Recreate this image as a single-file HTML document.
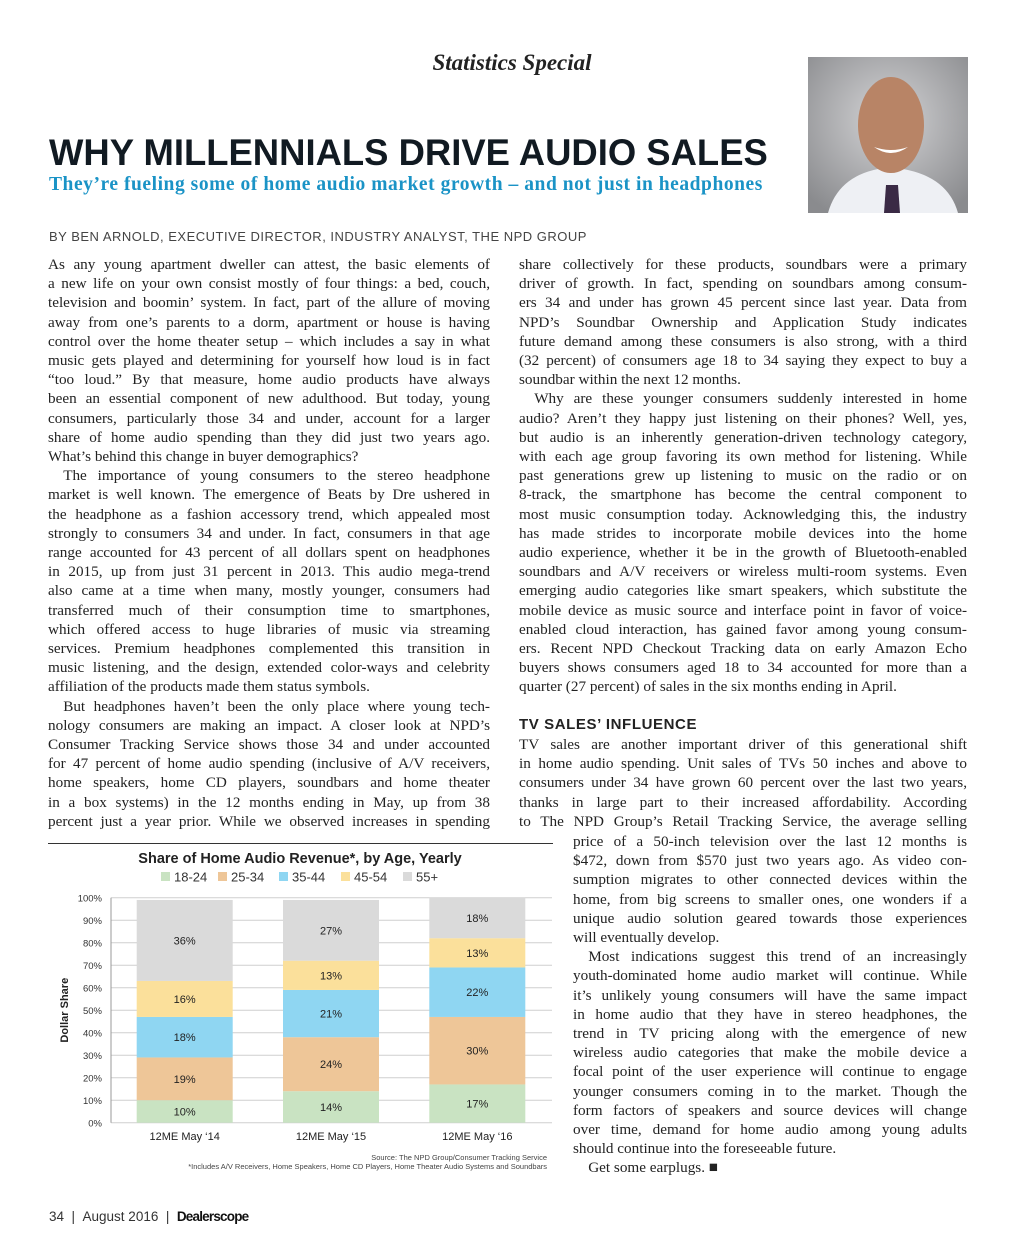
<!DOCTYPE html>
<html><head><meta charset="utf-8">
<style>
body{margin:0;background:#fff;}
#page{position:relative;width:1024px;height:1255px;overflow:hidden;background:#fff;font-family:"Liberation Serif",serif;color:#222;}
.abs{position:absolute;white-space:nowrap;}
.ln{position:absolute;font-size:15.2px;line-height:19px;white-space:nowrap;text-align:justify;text-align-last:justify;}
.c1{left:48px;width:442px;}
.c2{left:519px;width:448px;}
.c3{left:573px;width:394px;}
.e{text-align-last:left;}
</style></head><body>
<div id="page">
<div class="abs" style="left:0;width:1024px;text-align:center;top:50px;font-size:23px;font-style:italic;font-weight:bold;">Statistics Special</div>
<div class="abs" style="left:49px;top:132px;font-family:'Liberation Sans',sans-serif;font-weight:bold;font-size:37px;letter-spacing:0px;color:#111a22;transform:scaleX(0.985);transform-origin:left;">WHY MILLENNIALS DRIVE AUDIO SALES</div>
<div class="abs" style="left:49px;top:174px;font-size:19.5px;font-weight:bold;color:#1a93c6;letter-spacing:0.55px;">They’re fueling some of home audio market growth – and not just in headphones</div>
<div class="abs" style="left:49px;top:229px;font-family:'Liberation Sans',sans-serif;font-size:13px;color:#444;letter-spacing:0.5px;">BY BEN ARNOLD, EXECUTIVE DIRECTOR, INDUSTRY ANALYST, THE NPD GROUP</div>
<svg class="abs" style="left:808px;top:57px" width="160" height="156">
<defs><radialGradient id="bg" cx="0.5" cy="0.4" r="0.7"><stop offset="0" stop-color="#d4d4d6"/><stop offset="1" stop-color="#8a8b8e"/></radialGradient></defs>
<rect width="160" height="156" fill="url(#bg)"/>
<path d="M20 156 Q30 120 70 112 L95 112 Q140 120 150 156Z" fill="#eef0f4"/>
<path d="M78 128 L90 128 L92 156 L76 156Z" fill="#3a2a45"/>
<ellipse cx="83" cy="68" rx="33" ry="48" fill="#b88466"/>
<path d="M66 90 Q83 102 100 90 Q83 96 66 90Z" fill="#fff"/>
</svg>
<div id="col1"></div>
<div id="col2"></div>
<div class="abs" style="left:519px;top:716px;font-family:'Liberation Sans',sans-serif;font-weight:bold;font-size:15px;letter-spacing:0.6px;">TV SALES’ INFLUENCE</div>
<div class="abs" style="left:48px;top:843px;width:505px;height:1px;background:#333;"></div>
<svg id="chart" class="abs" style="left:0;top:840px" width="560" height="340"></svg>
<div class="abs" style="left:49px;top:1209px;font-family:'Liberation Sans',sans-serif;font-size:13.5px;color:#333;">34 &nbsp;| &nbsp;August 2016 &nbsp;| &nbsp;<b style="font-family:'Liberation Sans Narrow','Liberation Sans',sans-serif;letter-spacing:-0.8px;color:#111;">Dealerscope</b></div>
</div>
<script>
var L1=[["As any young apartment dweller can attest, the basic elements of",0],["a new life on your own consist mostly of four things: a bed, couch,",0],["television and boomin’ system. In fact, part of the allure of moving",0],["away from one’s parents to a dorm, apartment or house is having",0],["control over the home theater setup – which includes a say in what",0],["music gets played and determining for yourself how loud is in fact",0],["“too loud.” By that measure, home audio products have always",0],["been an essential component of new adulthood. But today, young",0],["consumers, particularly those 34 and under, account for a larger",0],["share of home audio spending than they did just two years ago.",0],["What’s behind this change in buyer demographics?",1],["\u2003The importance of young consumers to the stereo headphone",0],["market is well known. The emergence of Beats by Dre ushered in",0],["the headphone as a fashion accessory trend, which appealed most",0],["strongly to consumers 34 and under. In fact, consumers in that age",0],["range accounted for 43 percent of all dollars spent on headphones",0],["in 2015, up from just 31 percent in 2013. This audio mega-trend",0],["also came at a time when many, mostly younger, consumers had",0],["transferred much of their consumption time to smartphones,",0],["which offered access to huge libraries of music via streaming",0],["services. Premium headphones complemented this transition in",0],["music listening, and the design, extended color-ways and celebrity",0],["affiliation of the products made them status symbols.",1],["\u2003But headphones haven’t been the only place where young tech-",0],["nology consumers are making an impact. A closer look at NPD’s",0],["Consumer Tracking Service shows those 34 and under accounted",0],["for 47 percent of home audio spending (inclusive of A/V receivers,",0],["home speakers, home CD players, soundbars and home theater",0],["in a box systems) in the 12 months ending in May, up from 38",0],["percent just a year prior. While we observed increases in spending",0]];
var L2=[["share collectively for these products, soundbars were a primary",0],["driver of growth. In fact, spending on soundbars among consum-",0],["ers 34 and under has grown 45 percent since last year. Data from",0],["NPD’s Soundbar Ownership and Application Study indicates",0],["future demand among these consumers is also strong, with a third",0],["(32 percent) of consumers age 18 to 34 saying they expect to buy a",0],["soundbar within the next 12 months.",1],["\u2003Why are these younger consumers suddenly interested in home",0],["audio? Aren’t they happy just listening on their phones? Well, yes,",0],["but audio is an inherently generation-driven technology category,",0],["with each age group favoring its own method for listening. While",0],["past generations grew up listening to music on the radio or on",0],["8-track, the smartphone has become the central component to",0],["most music consumption today. Acknowledging this, the industry",0],["has made strides to incorporate mobile devices into the home",0],["audio experience, whether it be in the growth of Bluetooth-enabled",0],["soundbars and A/V receivers or wireless multi-room systems. Even",0],["emerging audio categories like smart speakers, which substitute the",0],["mobile device as music source and interface point in favor of voice-",0],["enabled cloud interaction, has gained favor among young consum-",0],["ers. Recent NPD Checkout Tracking data on early Amazon Echo",0],["buyers shows consumers aged 18 to 34 accounted for more than a",0],["quarter (27 percent) of sales in the six months ending in April.",1]];
var L3=[["TV sales are another important driver of this generational shift",0],["in home audio spending. Unit sales of TVs 50 inches and above to",0],["consumers under 34 have grown 60 percent over the last two years,",0],["thanks in large part to their increased affordability. According",0],["to The NPD Group’s Retail Tracking Service, the average selling",0]];
var L4=[["price of a 50-inch television over the last 12 months is",0],["$472, down from $570 just two years ago. As video con-",0],["sumption migrates to other connected devices within the",0],["home, from big screens to smaller ones, one wonders if a",0],["unique audio solution geared towards those experiences",0],["will eventually develop.",1],["\u2003Most indications suggest this trend of an increasingly",0],["youth-dominated home audio market will continue. While",0],["it’s unlikely young consumers will have the same impact",0],["in home audio that they have in stereo headphones, the",0],["trend in TV pricing along with the emergence of new",0],["wireless audio categories that make the mobile device a",0],["focal point of the user experience will continue to engage",0],["younger consumers coming in to the market. Though the",0],["form factors of speakers and source devices will change",0],["over time, demand for home audio among young adults",0],["should continue into the foreseeable future.",1],["\u2003Get some earplugs. \u25A0",1]];
function put(parent,lines,cls,top){
  lines.forEach(function(l,i){
    var d=document.createElement('div');
    d.className='ln '+cls+(l[1]?' e':'');
    d.style.top=(top+i*19.2-10)+'px';
    d.textContent=l[0];
    
    
    parent.appendChild(d);
  });
}
put(document.getElementById('col1'),L1,'c1',265);
put(document.getElementById('col2'),L2,'c2',265);
put(document.getElementById('col2'),L3,'c2',745);
put(document.getElementById('col2'),L4,'c3',842);

// Chart data
var categories=["12ME May ‘14","12ME May ‘15","12ME May ‘16"];
var seriesNames=["18-24","25-34","35-44","45-54","55+"];
var s1824=[10,14,17];
var s2534=[19,24,30];
var s3544=[18,21,22];
var s4554=[16,13,13];
var s55=[36,27,18];
var yTicks=[0,10,20,30,40,50,60,70,80,90,100];
var colors=["#c9e3c2","#eec698","#8fd6f2","#fbe09b","#dadada"];

var NS="http://www.w3.org/2000/svg";
var svg=document.getElementById('chart');
var X0=111,X1=552,Y0=282.7,Y100=57.7;
function y(v){return Y0-(v/100)*(Y0-Y100);}
function bx(i){return 136.7+i*146.3;}
var BW=96;
function el(t,a,txt){var e=document.createElementNS(NS,t);for(var k in a)e.setAttribute(k,a[k]);if(txt!=null)e.textContent=txt;svg.appendChild(e);return e;}
var sans="Liberation Sans, sans-serif";
var t=el('text',{x:300,y:23,'text-anchor':'middle','font-family':sans,'font-size':14.5,'font-weight':'bold',fill:'#222'},'Share of Home Audio Revenue*, by Age, Yearly');


var lx=[161,218,279,341,403];
seriesNames.forEach(function(n,i){
  var r=el('rect',{x:lx[i],y:32,width:9,height:9,fill:colors[i]});
  
  
  var tx=el('text',{x:lx[i]+13,y:41.5,'font-family':sans,'font-size':13,fill:'#333'},n);
  
  
});
yTicks.forEach(function(v){
  var g=el('line',{x1:X0,x2:X1,y1:y(v),y2:y(v),stroke:'#cfcfcf','stroke-width':1});
  
  
  var tl=el('text',{x:102,y:y(v)+4,'text-anchor':'end','font-family':sans,'font-size':9.5,fill:'#333'},v+'%');
  
  
});
var ax=el('line',{x1:X0,x2:X0,y1:Y100,y2:Y0,stroke:'#999'});


var yt=el('text',{x:0,y:0,transform:'translate(68,'+((Y0+Y100)/2)+') rotate(-90)','text-anchor':'middle','font-family':sans,'font-size':11,'font-weight':'bold',fill:'#222'},'Dollar Share');


var series=[s1824,s2534,s3544,s4554,s55];
categories.forEach(function(c,i){
  var base=0;
  series.forEach(function(s,j){
    var v=s[i];
    var r=el('rect',{x:bx(i),y:y(base+v),width:BW,height:y(base)-y(base+v),fill:colors[j]});
    
    
    var lbl=el('text',{x:bx(i)+BW/2,y:(y(base)+y(base+v))/2+4,'text-anchor':'middle','font-family':sans,'font-size':11,fill:'#222'},v+'%');
    
    
    base+=v;
  });
  var xl=el('text',{x:bx(i)+BW/2,y:300,'text-anchor':'middle','font-family':sans,'font-size':11,fill:'#222'},c);
  
  
});
var src=el('text',{x:547,y:320,'text-anchor':'end','font-family':sans,'font-size':7.5,fill:'#444'},'Source: The NPD Group/Consumer Tracking Service');


var fn=el('text',{x:547,y:329,'text-anchor':'end','font-family':sans,'font-size':7.5,fill:'#444'},'*Includes A/V Receivers, Home Speakers, Home CD Players, Home Theater Audio Systems and Soundbars');


</script>
</body></html>
